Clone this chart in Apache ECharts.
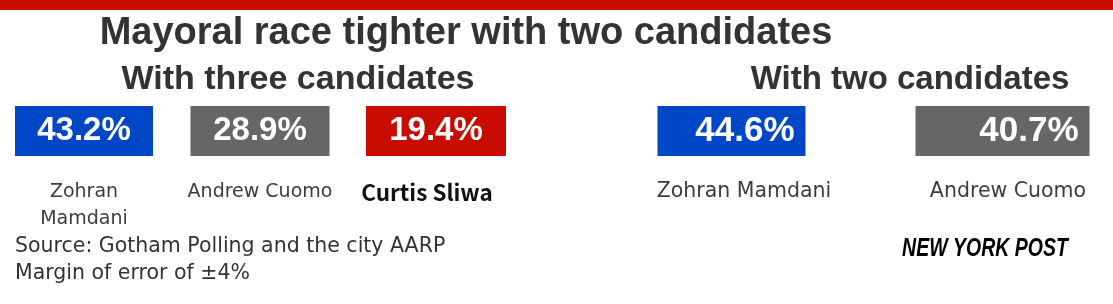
<!DOCTYPE html>
<html>
<head>
<meta charset="utf-8">
<script src="https://cdn.jsdelivr.net/npm/echarts@6/dist/echarts.min.js"></script>
<style>
html,body{margin:0;padding:0;background:#fff;}
#chart{width:1113px;height:304px;}
</style>
</head>
<body>
<div id="chart"></div>
<script>
// ---- data ----
const titleText = 'Mayoral race tighter with two candidates';
const leftSubtitle = 'With three candidates';
const rightSubtitle = 'With two candidates';
const leftNames = ['Zohran\nMamdani', 'Andrew Cuomo', 'Curtis Sliwa'];
const leftValues = [43.2, 28.9, 19.4];
const rightNames = ['Zohran Mamdani', 'Andrew Cuomo'];
const rightValues = [44.6, 40.7];
const sourceLines = ['Source: Gotham Polling and the city AARP', 'Margin of error of \u00b14%'];
const logoText = 'NEW YORK POST';

// ---- styles ----
const BLUE = '#0047c8', GRAY = '#666666', RED = '#c80c00';
const leftColors = [BLUE, GRAY, RED];
const rightColors = [BLUE, GRAY];
const leftSizes = [[138, 50], [139, 50], [140, 50]];
const rightSizes = [[148, 50], [174, 50]];
const leftLabelPad = [[0, 0, 0, 0], [0, 0, 0, 0], [0, 18, 0, 0]];
const rightLabelPad = [[0, 0, 0, 25], [0, 0, 0, 11]];

const chart = echarts.init(document.getElementById('chart'), null, {renderer: 'canvas'});

function nameFormatter(names) {
  return function (value) {
    const i = names.indexOf(value);
    if (value === 'Curtis Sliwa') return '{c' + i + '|' + value + '}';
    return value.split('\n').map(s => '{n' + i + '|' + s + '}').join('\n');
  };
}
function nameRich(names, pads, size) {
  const r = {};
  names.forEach((n, i) => {
    r['n' + i] = {fontFamily: 'DejaVu Sans', fontSize: size, color: '#3d3d3d', lineHeight: 27, padding: pads[i]};
    r['c' + i] = {fontFamily: 'Noto Sans CJK SC', fontWeight: 'bold', fontSize: 22.5, color: '#111', lineHeight: 27, padding: pads[i]};
  });
  return r;
}

const option = {
  backgroundColor: '#ffffff',
  animation: false,
  grid: [
    {left: -4, width: 528, top: 106, height: 50, outerBoundsMode: 'none', containLabel: false},
    {left: 596, width: 542, top: 106, height: 50, outerBoundsMode: 'none', containLabel: false}
  ],
  xAxis: [
    {type: 'category', gridIndex: 0, data: leftNames,
     axisLine: {show: false}, axisTick: {show: false}, splitLine: {show: false},
     axisLabel: {interval: 0, margin: 23, hideOverlap: false, formatter: nameFormatter(leftNames), rich: nameRich(leftNames, leftLabelPad, 19)}},
    {type: 'category', gridIndex: 1, data: rightNames,
     axisLine: {show: false}, axisTick: {show: false}, splitLine: {show: false},
     axisLabel: {interval: 0, margin: 22, hideOverlap: false, formatter: nameFormatter(rightNames), rich: nameRich(rightNames, rightLabelPad, 20.5)}}
  ],
  yAxis: [
    {type: 'category', gridIndex: 0, data: ['poll'], show: false},
    {type: 'category', gridIndex: 1, data: ['poll'], show: false}
  ],
  series: [
    {type: 'scatter', xAxisIndex: 0, yAxisIndex: 0, symbol: 'rect',
     symbolSize: (val, p) => leftSizes[p.dataIndex],
     data: leftValues.map((v, i) => ({value: [i, 0, v], itemStyle: {color: leftColors[i], opacity: 1}})),
     label: {show: true, position: 'inside', color: '#fff', fontFamily: 'Liberation Sans', fontWeight: 'bold', fontSize: 33,
             formatter: p => p.value[2].toFixed(1) + '%'},
     emphasis: {disabled: true}},
    {type: 'scatter', xAxisIndex: 1, yAxisIndex: 1, symbol: 'rect',
     symbolSize: (val, p) => rightSizes[p.dataIndex],
     data: rightValues.map((v, i) => ({value: [i, 0, v], itemStyle: {color: rightColors[i], opacity: 1}})),
     label: {show: true, position: 'insideRight', distance: 11, color: '#fff', fontFamily: 'Liberation Sans', fontWeight: 'bold', fontSize: 35,
             formatter: p => p.value[2].toFixed(1) + '%'},
     emphasis: {disabled: true}}
  ],
  graphic: [
    {type: 'rect', left: 0, top: 0, shape: {width: 1113, height: 10}, style: {fill: RED}},
    {type: 'text', x: 466, y: 34, style: {text: titleText, fill: '#333', font: 'bold 38px "Liberation Sans"', align: 'center', verticalAlign: 'middle'}},
    {type: 'text', x: 298, y: 80, style: {text: leftSubtitle, fill: '#333', font: 'bold 34px "Liberation Sans"', align: 'center', verticalAlign: 'middle'}},
    {type: 'text', x: 910, y: 80, style: {text: rightSubtitle, fill: '#333', font: 'bold 33px "Liberation Sans"', align: 'center', verticalAlign: 'middle'}},
    {type: 'text', x: 15, y: 247, style: {text: sourceLines[0], fill: '#333', font: '20.5px "DejaVu Sans"', align: 'left', verticalAlign: 'middle'}},
    {type: 'text', x: 15, y: 274, style: {text: sourceLines[1], fill: '#333', font: '20.5px "DejaVu Sans"', align: 'left', verticalAlign: 'middle'}},
    {type: 'text', x: 985, y: 249, scaleX: 0.78, style: {text: logoText, fill: '#000', font: 'italic 900 25px "Liberation Sans"', align: 'center', verticalAlign: 'middle',
      stroke: '#fff', lineWidth: 1.5, shadowColor: '#000', shadowOffsetX: 3, shadowOffsetY: 3, shadowBlur: 0}}
  ]
};
chart.setOption(option);
</script>
</body>
</html>
